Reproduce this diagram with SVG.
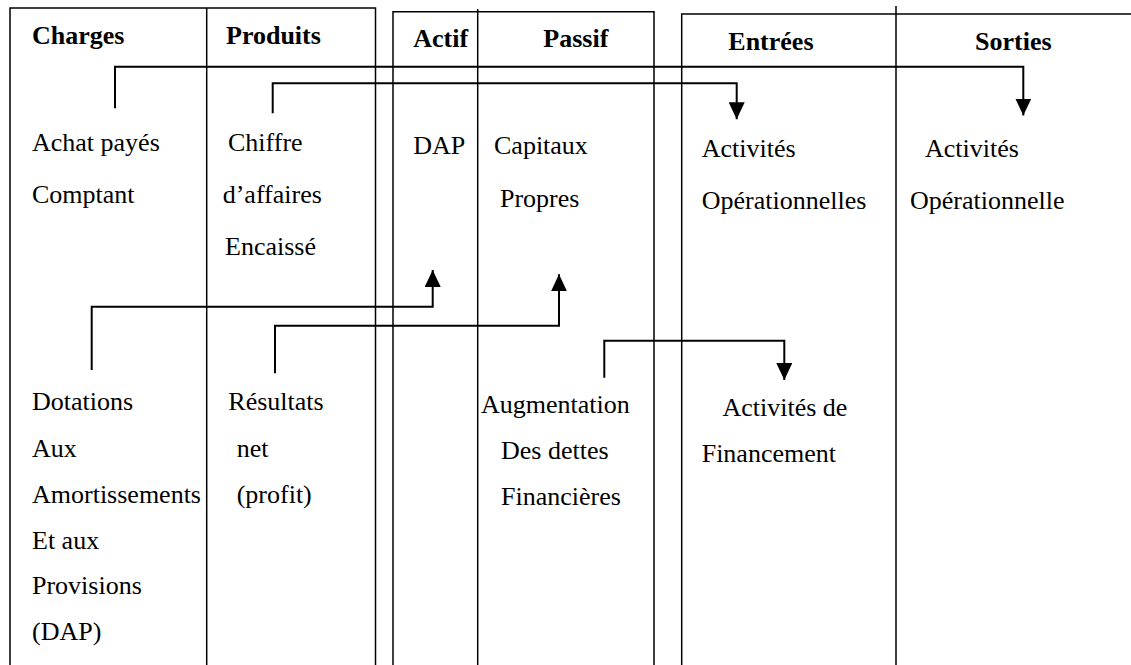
<svg xmlns="http://www.w3.org/2000/svg" width="1131" height="665" viewBox="0 0 1131 665">
  <style>
    .grid { stroke: #000; stroke-width: 1.5; fill: none; }
    .conn { stroke: #000; stroke-width: 2; fill: none; }
    text { font-family: "Liberation Serif", "Times New Roman", serif; font-size: 26px; fill: #000; }
    .hd { font-weight: bold; }
  </style>
  <defs>
    <marker id="arrow" viewBox="0 0 17 16" refX="17" refY="8" markerWidth="17" markerHeight="16" markerUnits="userSpaceOnUse" orient="auto">
      <path d="M0,0 L17,8 L0,16 z" fill="#000"/>
    </marker>
  </defs>
  <rect width="1131" height="665" fill="#fff"/>

  <g id="table-compte-resultat">
    <path class="grid" d="M10,672 V8 H375.5 V672 M206.7,8 V672"/>
    <text class="hd" x="32" y="43.5">Charges</text>
    <text class="hd" x="226" y="43.5">Produits</text>
  </g>
  <g id="table-bilan">
    <path class="grid" d="M393,672 V11.7 H654 V672 M477.7,9 V672"/>
    <text class="hd" x="413.3" y="46.7">Actif</text>
    <text class="hd" x="543.3" y="46.7">Passif</text>
  </g>
  <g id="table-flux">
    <path class="grid" d="M681.7,672 V14 H1135 M896,6 V672"/>
    <text class="hd" x="728.3" y="50">Entrées</text>
    <text class="hd" x="975" y="50">Sorties</text>
  </g>

  <g id="node-achat">
    <text x="32" y="151">Achat payés</text>
    <text x="32" y="202.5">Comptant</text>
  </g>
  <g id="node-ca">
    <text x="228" y="151">Chiffre</text>
    <text x="222.7" y="202.5">d’affaires</text>
    <text x="225" y="255">Encaissé</text>
  </g>
  <g id="node-dap-actif">
    <text x="413.3" y="154.3">DAP</text>
  </g>
  <g id="node-capitaux">
    <text x="494" y="154.3">Capitaux</text>
    <text x="500" y="206.7">Propres</text>
  </g>
  <g id="node-entrees-op">
    <text x="701.7" y="156.7">Activités</text>
    <text x="701.7" y="209">Opérationnelles</text>
  </g>
  <g id="node-sorties-op">
    <text x="925" y="156.7">Activités</text>
    <text x="910" y="209">Opérationnelle</text>
  </g>
  <g id="node-dotations">
    <text x="32" y="410">Dotations</text>
    <text x="32" y="456.7">Aux</text>
    <text x="32" y="503">Amortissements</text>
    <text x="32" y="548.5">Et aux</text>
    <text x="32" y="594">Provisions</text>
    <text x="32" y="640">(DAP)</text>
  </g>
  <g id="node-resultat">
    <text x="228.3" y="410">Résultats</text>
    <text x="236.7" y="456.7">net</text>
    <text x="236.7" y="503">(profit)</text>
  </g>
  <g id="node-augmentation">
    <text x="481" y="413.3">Augmentation</text>
    <text x="501" y="459">Des dettes</text>
    <text x="501" y="505">Financières</text>
  </g>
  <g id="node-financement">
    <text x="722.5" y="415.7">Activités de</text>
    <text x="701.7" y="462">Financement</text>
  </g>

  <g id="connectors">
    <path class="conn" marker-end="url(#arrow)" d="M115,108.3 V66.7 H1023.3 V115.5"/>
    <path class="conn" marker-end="url(#arrow)" d="M272.7,113.3 V83.3 H736.7 V119.3"/>
    <path class="conn" marker-end="url(#arrow)" d="M91.7,370 V306.7 H432.7 V270"/>
    <path class="conn" marker-end="url(#arrow)" d="M275,373.3 V325.7 H559 V274.3"/>
    <path class="conn" marker-end="url(#arrow)" d="M604.3,377.7 V340.7 H784.3 V380"/>
  </g>
</svg>
